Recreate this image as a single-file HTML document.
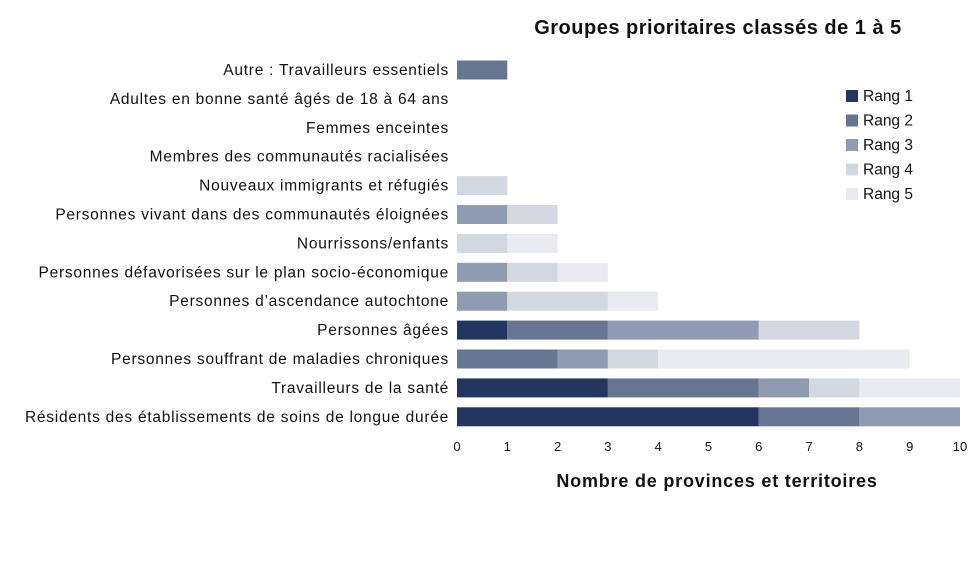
<!DOCTYPE html>
<html><head><meta charset="utf-8"><style>
body{margin:0;background:#fff;width:980px;height:558px;overflow:hidden;font-family:"Liberation Sans",sans-serif;}
</style></head><body>
<svg id="chart" width="980" height="558" xmlns="http://www.w3.org/2000/svg">
<text x="718" y="34" text-anchor="middle" font-size="20" letter-spacing="0.5" font-weight="bold" fill="#111">Groupes prioritaires classés de 1 à 5</text>
<text x="717" y="487" text-anchor="middle" font-size="18" letter-spacing="0.8" font-weight="bold" fill="#111">Nombre de provinces et territoires</text>
<g id="bars"></g><g id="labels"></g><g id="ticks"></g><g id="legend"></g>
</svg>
<script>
const categories=["Autre : Travailleurs essentiels","Adultes en bonne santé âgés de 18 à 64 ans","Femmes enceintes","Membres des communautés racialisées","Nouveaux immigrants et réfugiés","Personnes vivant dans des communautés éloignées","Nourrissons/enfants","Personnes défavorisées sur le plan socio-économique","Personnes d’ascendance autochtone","Personnes âgées","Personnes souffrant de maladies chroniques","Travailleurs de la santé","Résidents des établissements de soins de longue durée"];
const rang1=[0,0,0,0,0,0,0,0,0,1,0,3,6];
const rang2=[1,0,0,0,0,0,0,0,0,2,2,3,2];
const rang3=[0,0,0,0,0,1,0,1,1,3,1,1,2];
const rang4=[0,0,0,0,1,1,1,1,2,2,1,1,0];
const rang5=[0,0,0,0,0,0,1,1,1,0,5,2,0];
const seriesNames=["Rang 1","Rang 2","Rang 3","Rang 4","Rang 5"];
const tickLabels=[0,1,2,3,4,5,6,7,8,9,10];
const series=[rang1,rang2,rang3,rang4,rang5];
const colors=["#22365f","#667592","#8f9bb1","#d3d7e0","#e9ebf0"];
const NS="http://www.w3.org/2000/svg";
const x0=457,x1=960,xmax=10;
const xs=v=>x0+(x1-x0)*v/xmax;
const y0=70,step=28.9,bh=19;
const ys=i=>y0+i*step;
function mk(tag,attrs,parent){const e=document.createElementNS(NS,tag);for(const k in attrs)e.setAttribute(k,attrs[k]);document.getElementById(parent).appendChild(e);return e;}
categories.forEach((c,i)=>{
  const t=mk("text",{x:449,y:ys(i)+5,"text-anchor":"end","font-size":"15.5","letter-spacing":"0.75",fill:"#111"},"labels");
  t.textContent=c;
  
  
  let acc=0;
  series.forEach((s,k)=>{
    if(s[i]>0){
      const r=mk("rect",{x:xs(acc),y:ys(i)-bh/2,width:xs(acc+s[i])-xs(acc),height:bh,fill:colors[k]},"bars");
      
      
    }
    acc+=s[i];
  });
});
tickLabels.forEach(v=>{
  const t=mk("text",{x:xs(v),y:451,"text-anchor":"middle","font-size":"13",fill:"#111"},"ticks");
  t.textContent=v;
  
  
});
seriesNames.forEach((n,k)=>{
  const yy=96+k*24.5;
  const r=mk("rect",{x:846,y:yy-6,width:12,height:12,fill:colors[k]},"legend");
  
  
  const t=mk("text",{x:863,y:yy+5,"font-size":"15.5",fill:"#111"},"legend");
  t.textContent=n;
  
  
});
</script>
</body></html>
